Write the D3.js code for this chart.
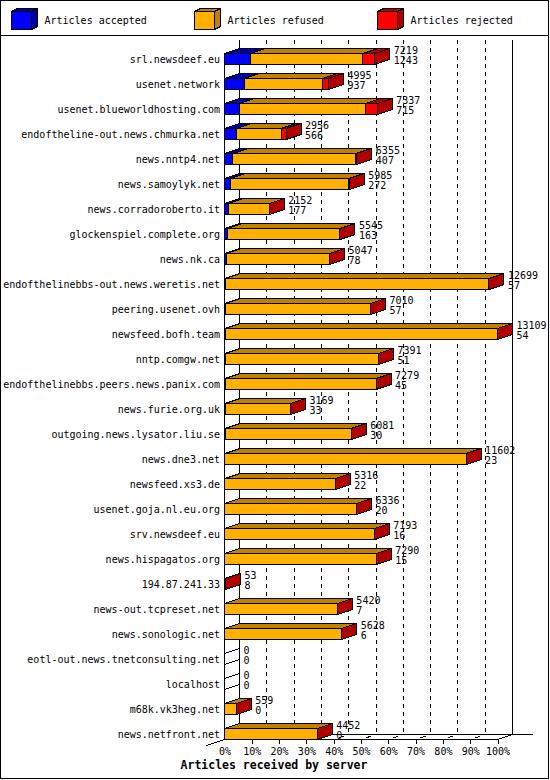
<!DOCTYPE html>
<html>
<head>
<meta charset="utf-8">
<script src="https://cdn.jsdelivr.net/npm/d3@7"></script>
<style>
  body { margin: 0; background: #fff; }
  text { font-family: "DejaVu Sans Mono", monospace; font-size: 10px; fill: #000; }
</style>
</head>
<body>
<div id="chart"></div>
<script>
// data
var hosts = [
  "srl.newsdeef.eu", "usenet.network", "usenet.blueworldhosting.com",
  "endoftheline-out.news.chmurka.net", "news.nntp4.net", "news.samoylyk.net",
  "news.corradoroberto.it", "glockenspiel.complete.org", "news.nk.ca",
  "endofthelinebbs-out.news.weretis.net", "peering.usenet.ovh", "newsfeed.bofh.team",
  "nntp.comgw.net", "endofthelinebbs.peers.news.panix.com", "news.furie.org.uk",
  "outgoing.news.lysator.liu.se", "news.dne3.net", "newsfeed.xs3.de",
  "usenet.goja.nl.eu.org", "srv.newsdeef.eu", "news.hispagatos.org",
  "194.87.241.33", "news-out.tcpreset.net", "news.sonologic.net",
  "eotl-out.news.tnetconsulting.net", "localhost", "m68k.vk3heg.net", "news.netfront.net"
];
var accepted = [1243, 937, 715, 566, 407, 272, 177, 163, 78, 57, 57, 54, 51, 45, 33, 30, 23, 22, 20, 16, 15, 8, 7, 6, 0, 0, 0, 0];
var refused  = [5406, 3788, 6062, 2150, 5898, 5703, 1970, 5377, 4964, 12637, 6950, 13050, 7337, 7231, 3134, 6048, 11574, 5292, 6313, 7174, 7272, 0, 5410, 5620, 0, 0, 559, 4452];
var rejected = [570, 270, 560, 240, 50, 10, 5, 5, 5, 5, 3, 5, 3, 3, 2, 3, 5, 2, 3, 3, 3, 45, 3, 2, 0, 0, 0, 0];
var seriesNames = ["Articles accepted", "Articles refused", "Articles rejected"];
var tickPercents = [0, 10, 20, 30, 40, 50, 60, 70, 80, 90, 100];

var frontColors = ["#0000ff", "#ffb000", "#ff0000"];
var darkColors = ["#0000a8", "#c08000", "#b00000"];

var svgWidth = 550;
var svgHeight = 780;

// 3d depth of the bars and of the floor
var depthX = 15;
var depthY = -5;

var svg = d3.select("#chart")
  .append("svg")
  .attr("width", svgWidth)
  .attr("height", svgHeight)
  .style("shape-rendering", "crispEdges");

// frame and legend strip
svg.append("rect")
  .attr("x", 0.5).attr("y", 0.5)
  .attr("width", 548).attr("height", 778)
  .attr("fill", "#fff").attr("stroke", "#000");

svg.append("line")
  .attr("x1", 0).attr("x2", 549)
  .attr("y1", 35.5).attr("y2", 35.5)
  .attr("stroke", "#000");

var legend = svg.selectAll(".legend")
  .data(seriesNames)
  .enter()
  .append("g")
  .attr("class", "legend")
  .attr("transform", (d, i) => `translate(${11.5 + i * 183}, 11.5)`);

legend.append("path")
  .attr("d", "M0,0 L6,-3 L26,-3 L20,0Z")
  .attr("fill", (d, i) => darkColors[i])
  .attr("stroke", "#000");

legend.append("path")
  .attr("d", "M20,0 L26,-3 L26,15 L20,18Z")
  .attr("fill", (d, i) => darkColors[i])
  .attr("stroke", "#000");

legend.append("rect")
  .attr("width", 20).attr("height", 18)
  .attr("fill", (d, i) => frontColors[i])
  .attr("stroke", "#000");

legend.append("text")
  .attr("x", 33)
  .attr("y", 12.5)
  .text(d => d);

// table for the stack
var table = hosts.map((h, i) => ({
  host: h, accepted: accepted[i], refused: refused[i], rejected: rejected[i]
}));
var keys = ["accepted", "refused", "rejected"];
var stacked = d3.stack().keys(keys)(table);
table.forEach(d => { d.total = d.accepted + d.refused + d.rejected; });

var maxTotal = d3.max(table, d => d.total);

// scales
var pctScale = d3.scaleLinear().domain([0, 100]).range([224.5, 497.5]);
var xScale = d3.scaleLinear().domain([0, maxTotal]).range([224.5, 497.5]);
var yScale = d3.scaleBand().domain(hosts).range([40, 740]);

var baseY = 739.5;
var barTop = d => yScale(d) + 13.5;
var barBottom = d => yScale(d) + 24.5;

// back wall grid
var grid = svg.append("g");
grid.selectAll("line")
  .data(tickPercents)
  .enter()
  .append("line")
  .attr("x1", d => pctScale(d) + depthX)
  .attr("x2", d => pctScale(d) + depthX)
  .attr("y1", 40)
  .attr("y2", baseY + depthY)
  .attr("stroke", "#000")
  .attr("stroke-dasharray", d => (d === 0 || d === 100) ? null : "4,4");

// floor
svg.append("line")
  .attr("x1", pctScale(0) + depthX).attr("x2", 532.5)
  .attr("y1", baseY + depthY).attr("y2", baseY + depthY)
  .attr("stroke", "#000");

svg.append("path")
  .attr("d", `M${pctScale(0)},${baseY} L${pctScale(100)},${baseY} L${pctScale(100) + depthX},${baseY + depthY}`)
  .attr("fill", "none")
  .attr("stroke", "#000");

svg.append("line")
  .attr("x1", pctScale(0) + depthX).attr("y1", baseY + depthY)
  .attr("x2", pctScale(0) - 18).attr("y2", baseY + 6)
  .attr("stroke", "#000");

svg.append("g")
  .selectAll("line")
  .data(tickPercents.filter(d => d > 0 && d < 100))
  .enter()
  .append("line")
  .attr("x1", d => pctScale(d) + 5).attr("y1", baseY - 1.7)
  .attr("x2", d => pctScale(d) + 10).attr("y2", baseY - 3.3)
  .attr("stroke", "#000");

// front left axis
svg.append("line")
  .attr("x1", pctScale(0)).attr("x2", pctScale(0))
  .attr("y1", barTop(hosts[0])).attr("y2", baseY)
  .attr("stroke", "#000");

// bars
var rows = svg.append("g")
  .selectAll("g")
  .data(table)
  .enter()
  .append("g");

keys.forEach(function(key, s) {
  rows.each(function(d, i) {
    var seg = stacked[s][i];
    var x0 = xScale(seg[0]);
    var x1 = xScale(seg[1]);
    if (x1 - x0 <= 0) return;
    var t = barTop(d.host);
    var b = barBottom(d.host);
    var g = d3.select(this);
    g.append("path")
      .attr("d", `M${x0},${t} L${x0 + depthX},${t + depthY} L${x1 + depthX},${t + depthY} L${x1},${t}Z`)
      .attr("fill", darkColors[s])
      .attr("stroke", "#000");
    g.append("rect")
      .attr("x", x0).attr("y", t)
      .attr("width", x1 - x0).attr("height", b - t)
      .attr("fill", frontColors[s])
      .attr("stroke", "#000");
  });
});

rows.each(function(d) {
  var xe = xScale(d.total);
  var t = barTop(d.host);
  var b = barBottom(d.host);
  var g = d3.select(this);
  if (d.total > 0) {
    g.append("path")
      .attr("d", `M${xe},${t} L${xe + depthX},${t + depthY} L${xe + depthX},${b + depthY} L${xe},${b}Z`)
      .attr("fill", darkColors[2])
      .attr("stroke", "#000");
  } else {
    g.append("path")
      .attr("d", `M${xe},${t} L${xe + depthX},${t + depthY} M${xe},${b} L${xe + depthX},${b + depthY}`)
      .attr("fill", "none")
      .attr("stroke", "#000");
  }
  g.append("text")
    .attr("x", xe + depthX + 4)
    .attr("y", yScale(d.host) + 14)
    .text(d.total);
  g.append("text")
    .attr("x", xe + depthX + 4)
    .attr("y", yScale(d.host) + 24)
    .text(d.accepted);
});

// axes
var bottomAxis = d3.axisBottom(pctScale)
  .tickValues(tickPercents)
  .tickFormat(d => d + "%")
  .tickSize(4)
  .tickPadding(4);

var xAxisG = svg.append("g")
  .attr("transform", `translate(0, ${baseY})`)
  .call(bottomAxis);
xAxisG.select(".domain").remove();
xAxisG.selectAll("text").attr("font-family", null).attr("font-size", null);
xAxisG.selectAll(".tick").filter(d => d === 0).select("line").remove();

var leftAxis = d3.axisLeft(yScale)
  .tickSize(0)
  .tickPadding(4.5);

var yAxisG = svg.append("g")
  .attr("transform", `translate(${pctScale(0)}, 7.3)`)
  .call(leftAxis);
yAxisG.select(".domain").remove();
yAxisG.selectAll("text").attr("font-family", null).attr("font-size", null);

svg.append("text")
  .attr("x", 274)
  .attr("y", 769)
  .attr("text-anchor", "middle")
  .style("font-weight", "bold")
  .style("font-size", "11.5px")
  .text("Articles received by server");
</script>
</body>
</html>
